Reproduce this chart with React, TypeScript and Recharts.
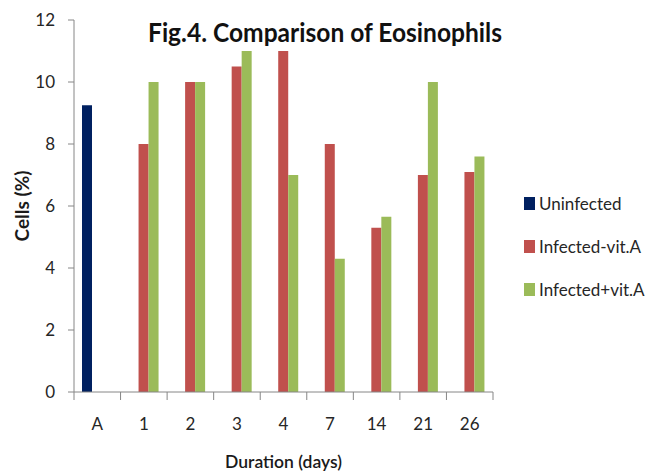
import { BarChart, Bar, XAxis, YAxis, Legend } from 'recharts';

const categories = ['A', '1', '2', '3', '4', '7', '14', '21', '26'];
const uninfected = [9.25, null, null, null, null, null, null, null, null];
const infectedMinusVitA = [null, 8, 10, 10.5, 11, 8, 5.3, 7, 7.1];
const infectedPlusVitA = [null, 10, 10, 11, 7, 4.3, 5.65, 10, 7.6];
const yTicks = [0, 2, 4, 6, 8, 10, 12];

const seriesInfo = [
  { key: 'uninfected', name: 'Uninfected', color: '#002060' },
  { key: 'minusVit', name: 'Infected-vit.A', color: '#C0504D' },
  { key: 'plusVit', name: 'Infected+vit.A', color: '#9BBB59' },
];

const data = categories.map((day, i) => ({
  day,
  uninfected: uninfected[i],
  minusVit: infectedMinusVitA[i],
  plusVit: infectedPlusVitA[i],
}));

const FONT = 'Lato, "Open Sans", sans-serif';
const AXIS_GRAY = '#868686';

function DayTick(props: any) {
  const { x, y, payload, width, visibleTicksCount, index } = props;
  const half = payload.offset ?? width / visibleTicksCount / 2;
  return (
    <g>
      <line x1={x - half} y1={y} x2={x - half} y2={y + 8} stroke={AXIS_GRAY} />
      {index === visibleTicksCount - 1 && (
        <line x1={x + half} y1={y} x2={x + half} y2={y + 8} stroke={AXIS_GRAY} />
      )}
      <text x={x} y={y + 38} textAnchor='middle' fontFamily={FONT} fontSize={17} fill='#262626'>
        {payload.value}
      </text>
    </g>
  );
}

function LegendBox() {
  return (
    <div style={{ fontFamily: FONT, fontSize: 17, color: '#262626' }}>
      {seriesInfo.map((s) => (
        <div key={s.key} style={{ display: 'flex', alignItems: 'center', height: 43 }}>
          <span style={{ display: 'inline-block', width: 11, height: 13, background: s.color, marginRight: 4 }} />
          <span>{s.name}</span>
        </div>
      ))}
    </div>
  );
}

export default function App() {
  return (
    <div style={{ position: 'absolute', left: 0, top: 0, width: 663, height: 473, background: '#fff' }}>
      <BarChart
        width={663}
        height={473}
        data={data}
        margin={{ top: 20, right: 170, left: 14, bottom: 0 }}
        barCategoryGap={8}
        barGap={0}
      >
        <XAxis
          dataKey='day'
          height={81}
          stroke={AXIS_GRAY}
          tickLine={false}
          tickSize={0}
          tickMargin={0}
          tick={<DayTick />}
          interval={0}
          label={{
            value: 'Duration (days)',
            position: 'insideBottom',
            offset: 5,
            style: { fontFamily: FONT, fontSize: 17.5, fontWeight: 600, fill: '#1a1a1a' },
          }}
        />
        <YAxis
          width={60}
          domain={[0, 12]}
          ticks={yTicks}
          stroke={AXIS_GRAY}
          tickSize={6}
          tickMargin={13}
          tick={{ fontFamily: FONT, fontSize: 17, fill: '#262626' }}
          label={{
            value: 'Cells (%)',
            angle: -90,
            position: 'insideLeft',
            offset: 8,
            style: { textAnchor: 'middle', fontFamily: FONT, fontSize: 19, fontWeight: 700, fill: '#1a1a1a' },
          }}
        />
        <Legend
          verticalAlign='middle'
          layout='horizontal'
          content={<LegendBox />}
          wrapperStyle={{ left: 524, top: 182, width: 139, height: 130 }}
        />
        {seriesInfo.map((s) => (
          <Bar key={s.key} dataKey={s.key} name={s.name} fill={s.color} isAnimationActive={false} />
        ))}
      </BarChart>
      <svg width={663} height={60} style={{ position: 'absolute', left: 0, top: 0, pointerEvents: 'none' }}>
        <text
          x={148}
          y={42}
          textLength={354}
          lengthAdjust='spacingAndGlyphs'
          fontFamily={FONT}
          fontSize={26}
          fontWeight={700}
          fill='#111'
        >
          Fig.4. Comparison of Eosinophils
        </text>
      </svg>
    </div>
  );
}
